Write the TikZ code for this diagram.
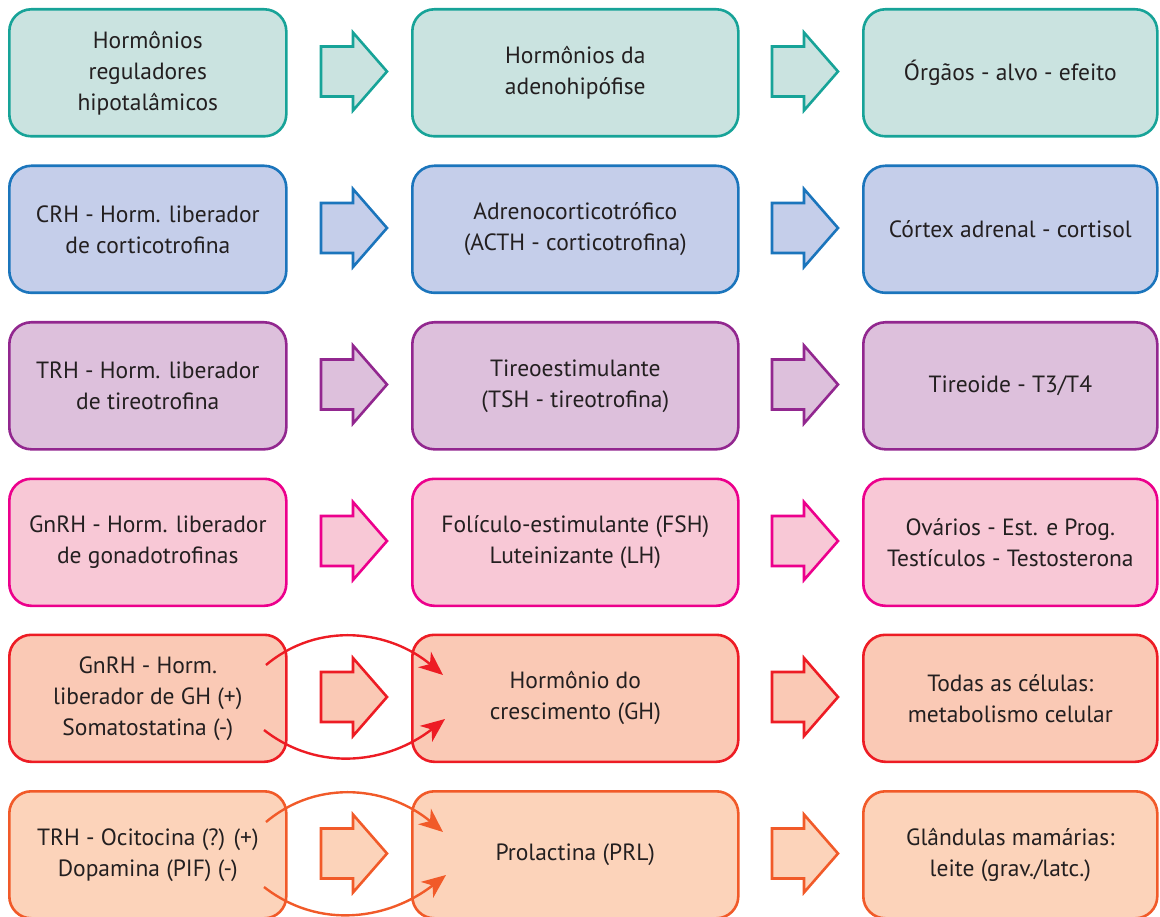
\documentclass[tikz,border=0pt]{standalone}
\usepackage{fontspec}
\setmainfont{PT Sans}
\usetikzlibrary{arrows.meta}

% row colours: border / fill
\definecolor{tealB}{HTML}{17A398}\definecolor{tealF}{HTML}{CAE3E0}
\definecolor{blueB}{HTML}{1B75BC}\definecolor{blueF}{HTML}{C5CEEA}
\definecolor{purpB}{HTML}{92278F}\definecolor{purpF}{HTML}{DDC0DC}
\definecolor{pinkB}{HTML}{EC008C}\definecolor{pinkF}{HTML}{F8C8D6}
\definecolor{redB}{HTML}{ED1C24}\definecolor{redF}{HTML}{FAC9B5}
\definecolor{orngB}{HTML}{F15A29}\definecolor{orngF}{HTML}{FCD3BA}
\definecolor{ink}{HTML}{231F20}

\tikzset{
  hbox/.style={draw, rounded corners=22pt, line width=2.6pt, align=center,
    text=ink, inner sep=0pt, minimum height=127pt, anchor=north west,
    font=\fontsize{23.5}{31}\selectfont},
  colA/.style={hbox, minimum width=277pt},
  colB/.style={hbox, minimum width=326pt},
  colC/.style={hbox, minimum width=294pt},
  rowteal/.style={draw=tealB, fill=tealF},
  rowblue/.style={draw=blueB, fill=blueF},
  rowpurp/.style={draw=purpB, fill=purpF},
  rowpink/.style={draw=pinkB, fill=pinkF},
  rowred/.style={draw=redB, fill=redF},
  roworng/.style={draw=orngB, fill=orngF},
  fatarrow/.style={line width=2.6pt, line join=miter},
  curvearrow/.style={line width=2.4pt, -{Stealth[length=24pt,width=20pt,inset=7pt]}},
}

% block arrow: left end at x=#1, centred on y=#2
\newcommand\fatarr[3]{%
  \draw[fatarrow,#3] (#1,#2-25) -- ++(32,0) -- ++(0,-14) -- ++(34,39)
    -- ++(-34,39) -- ++(0,-14) -- ++(-32,0) -- cycle;}

\begin{document}
\begin{tikzpicture}[x=1pt,y=-1pt]
\useasboundingbox (0,0) rectangle (1160,917);

% row 1
\node[colA,rowteal] (a1) at (8,8) {Hormônios\\reguladores\\hipotalâmicos};
\node[colB,rowteal] (b1) at (411,8) {Hormônios da\\adenohipófise};
\node[colC,rowteal] (c1) at (862,8) {Órgãos - alvo - efeito};
% row 2
\node[colA,rowblue] (a2) at (8,164.5) {CRH - Horm. liberador\\de corticotrofina};
\node[colB,rowblue] (b2) at (411,164.5) {Adrenocorticotrófico\\(ACTH - corticotrofina)};
\node[colC,rowblue] (c2) at (862,164.5) {Córtex adrenal - cortisol};
% row 3
\node[colA,rowpurp] (a3) at (8,321) {TRH - Horm. liberador\\de tireotrofina};
\node[colB,rowpurp] (b3) at (411,321) {Tireoestimulante\\(TSH - tireotrofina)};
\node[colC,rowpurp] (c3) at (862,321) {Tireoide - T3/T4};
% row 4
\node[colA,rowpink] (a4) at (8,477.5) {GnRH - Horm. liberador\\de gonadotrofinas};
\node[colB,rowpink] (b4) at (411,477.5) {Folículo-estimulante (FSH)\\Luteinizante (LH)};
\node[colC,rowpink] (c4) at (862,477.5) {Ovários - Est. e Prog.\\Testículos - Testosterona};
% row 5
\node[colA,rowred] (a5) at (8,633.5) {GnRH - Horm.\\liberador de GH (+)\\Somatostatina (-)};
\node[colB,rowred] (b5) at (411,633.5) {Hormônio do\\crescimento (GH)};
\node[colC,rowred] (c5) at (862,633.5) {Todas as células:\\metabolismo celular};
% row 6
\node[colA,roworng] (a6) at (8,790) {TRH - Ocitocina (?) (+)\\Dopamina (PIF) (-)};
\node[colB,roworng] (b6) at (411,790) {Prolactina (PRL)};
\node[colC,roworng] (c6) at (862,790) {Glândulas mamárias:\\leite (grav./latc.)};

% block arrows between the columns
\foreach \yc/\st in {71.5/rowteal,228/rowblue,384.5/rowpurp,541/rowpink,697/rowred,853.5/roworng}{
  \fatarr{321}{\yc}{\st}
  \fatarr{772}{\yc}{\st}
}

% stimulating / inhibiting paths into the pituitary hormone boxes
\coordinate (s5u) at (266,665);  \coordinate (t5u) at (443,675);
\coordinate (s5d) at (264,730);  \coordinate (t5d) at (445,719);
\coordinate (s6u) at (266,822);  \coordinate (t6u) at (443,832);
\coordinate (s6d) at (264,887);  \coordinate (t6d) at (446,875);
\draw[curvearrow,redB] (s5u) to[out=40,in=140] (t5u);
\draw[curvearrow,redB] (s5d) to[out=-38,in=-142] (t5d);
\draw[curvearrow,orngB] (s6u) to[out=40,in=140] (t6u);
\draw[curvearrow,orngB] (s6d) to[out=-38,in=-142] (t6d);
\end{tikzpicture}
\end{document}
